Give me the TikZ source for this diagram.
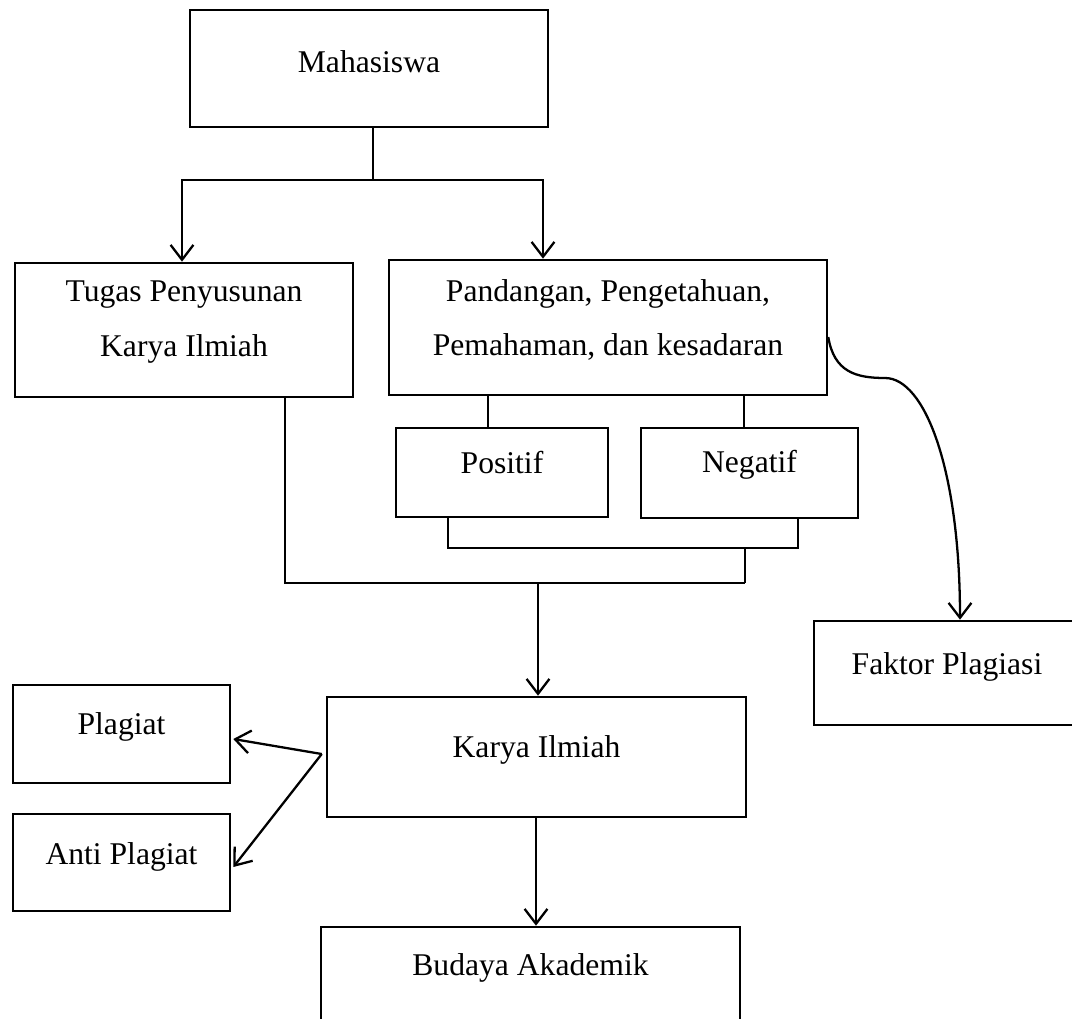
\documentclass[tikz,border=0pt]{standalone}
\usepackage{fontspec}
\setmainfont{Liberation Serif}
\usetikzlibrary{arrows.meta,calc}
\tikzset{
  box/.style={draw=black, line width=1.5pt, rectangle, inner sep=0pt},
  txt/.style={font=\fontsize{18}{31}\selectfont, align=center, inner sep=0pt},
  conn/.style={draw=black, line width=1.3pt},
  arr/.style={conn, -{Straight Barb[length=8.5pt,width=13pt,line width=1.3pt]}}
}
\begin{document}
\begin{tikzpicture}[x=0.02cm, y=-0.02cm]
\useasboundingbox (0,0) rectangle (1072,1018);
% boxes
\node[box, minimum width=7.16cm, minimum height=2.34cm, label={[txt,yshift=0.13cm]center:Mahasiswa}] (mah) at (369,68.5) {};
\node[box, minimum width=6.76cm, minimum height=2.68cm, label={[txt,yshift=0.16cm]center:{Tugas Penyusunan\\Karya Ilmiah}}] (tugas) at (184,330) {};
\node[box, minimum width=8.76cm, minimum height=2.70cm, label={[txt,yshift=0.15cm]center:{Pandangan, Pengetahuan,\\Pemahaman, dan kesadaran}}] (pand) at (608,327.5) {};
\node[box, minimum width=4.24cm, minimum height=1.78cm, label={[txt,yshift=0.19cm]center:Positif}] (pos) at (502,472.5) {};
\node[box, minimum width=4.34cm, minimum height=1.80cm, label={[txt,yshift=0.17cm]center:Negatif}] (neg) at (749.5,473) {};
\node[box, minimum width=5.32cm, minimum height=2.08cm, label={[txt,yshift=0.12cm]center:Faktor Plagiasi}] (faktor) at (947,673) {};
\node[box, minimum width=8.38cm, minimum height=2.40cm, label={[txt,yshift=0.14cm]center:Karya Ilmiah}] (karya) at (536.5,757) {};
\node[box, minimum width=4.34cm, minimum height=1.96cm, label={[txt,yshift=0.14cm]center:Plagiat}] (plag) at (121.5,734) {};
\node[box, minimum width=4.34cm, minimum height=1.94cm, label={[txt,yshift=0.11cm]center:Anti Plagiat}] (anti) at (121.5,862.5) {};
\node[box, minimum width=8.38cm, minimum height=2.06cm, label={[txt,yshift=0.21cm]center:Budaya Akademik}] (bud) at (530.5,978.5) {};
% junction coordinates
\coordinate (j1) at (373,180);
\coordinate (jl) at (182,180);
\coordinate (jr) at (543,180);
\coordinate (p1) at (488,0);
\coordinate (p2) at (744,0);
\coordinate (bl) at (448,548);
\coordinate (br) at (798,548);
\coordinate (bm) at (745,548);
\coordinate (ll) at (285,583);
\coordinate (lr) at (745,583);
\coordinate (la) at (538,583);
\coordinate (kb) at (536,0);
\coordinate (ks) at ($(karya.west)+(-4,-3)$);
% connectors
\draw[conn] (mah.south -| j1) -- (j1);
\draw[conn, line cap=rect] (jl) -- (jr);
\draw[arr] (jl) -- (tugas.north -| jl);
\draw[arr] (jr) -- (pand.north -| jr);
\draw[conn] (pand.south -| p1) -- (pos.north -| p1);
\draw[conn] (pand.south -| p2) -- (neg.north -| p2);
\draw[conn, line join=miter] (pos.south -| bl) -- (bl) -- (br) -- (neg.south -| br);
\draw[conn] (bm) -- (lr);
\draw[conn, line join=miter] (tugas.south -| ll) -- (ll) -- (lr);
\draw[arr] (la) -- (karya.north -| la);
\draw[arr] (ks) -- ($(plag.east)+(2,5)$);
\draw[arr] (ks) -- ($(anti.east)+(2,4.5)$);
\draw[arr] (karya.south -| kb) -- (bud.north -| kb);
\draw[arr] ($(pand.east)+(0,9.5)$) .. controls (834,372) and (856,378) .. (885,378)
   .. controls (925,378) and (960,470) .. ($(faktor.north)+(13,0)$);
\end{tikzpicture}
\end{document}
